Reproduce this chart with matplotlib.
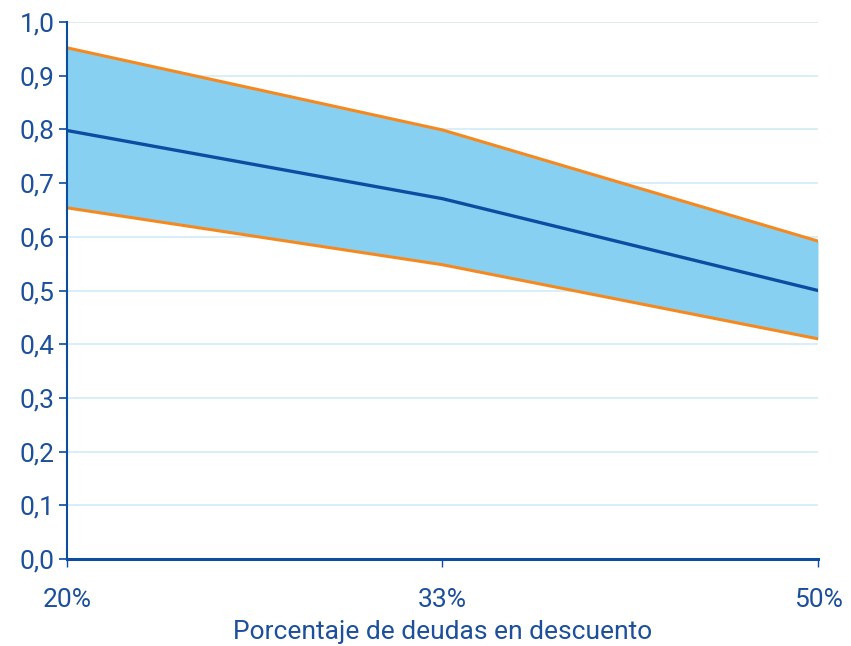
import matplotlib
matplotlib.use("Agg")
import matplotlib.pyplot as plt
from matplotlib.ticker import FuncFormatter

# data
categories = ["20%", "33%", "50%"]
upper = [0.952, 0.799, 0.592]
central = [0.798, 0.671, 0.500]
lower = [0.654, 0.548, 0.410]

text_col = "#1c4f9c"
line_col = "#0d4da1"
orange = "#f5891f"
band = "#88d0f1"
grid_col = "#d3ebf8"

plt.rcParams["font.family"] = ["Roboto", "DejaVu Sans"]

fig = plt.figure(figsize=(8.51, 6.46), dpi=100)
ax = fig.add_axes([0.0787, 0.1347, 0.8825, 0.8312])

x = list(range(len(categories)))
ax.fill_between(x, lower, upper, color=band, linewidth=0, zorder=2)
ax.plot(x, upper, color=orange, lw=2.2, zorder=3)
ax.plot(x, lower, color=orange, lw=2.2, zorder=3)
ax.plot(x, central, color=line_col, lw=2.4, zorder=4)

ax.set_xlim(0, 2)
ax.set_ylim(0, 1.0)
ax.set_yticks([i / 10 for i in range(11)])
ax.yaxis.set_major_formatter(FuncFormatter(lambda v, p: f"{v:.1f}".replace(".", ",")))
ax.set_xticks(x)
ax.set_xticklabels(categories)

ax.grid(axis="y", color=grid_col, lw=1.2, zorder=1)
ax.set_axisbelow(True)

for s in ["top", "right"]:
    ax.spines[s].set_visible(False)
ax.spines["left"].set_color(line_col)
ax.spines["left"].set_linewidth(1.5)
ax.spines["bottom"].set_color(line_col)
ax.spines["bottom"].set_linewidth(2.2)
ax.spines["left"].set_zorder(5)
ax.spines["bottom"].set_zorder(5)

ax.tick_params(axis="y", colors=line_col, labelcolor=text_col, labelsize=19, length=6, width=1.2, pad=3)
ax.tick_params(axis="x", colors=line_col, labelcolor=text_col, labelsize=19, length=6, width=1.0, pad=15)

ax.set_xlabel("Porcentaje de deudas en descuento", color=text_col, fontsize=19, labelpad=6)

fig.savefig("out.png", dpi=100)
